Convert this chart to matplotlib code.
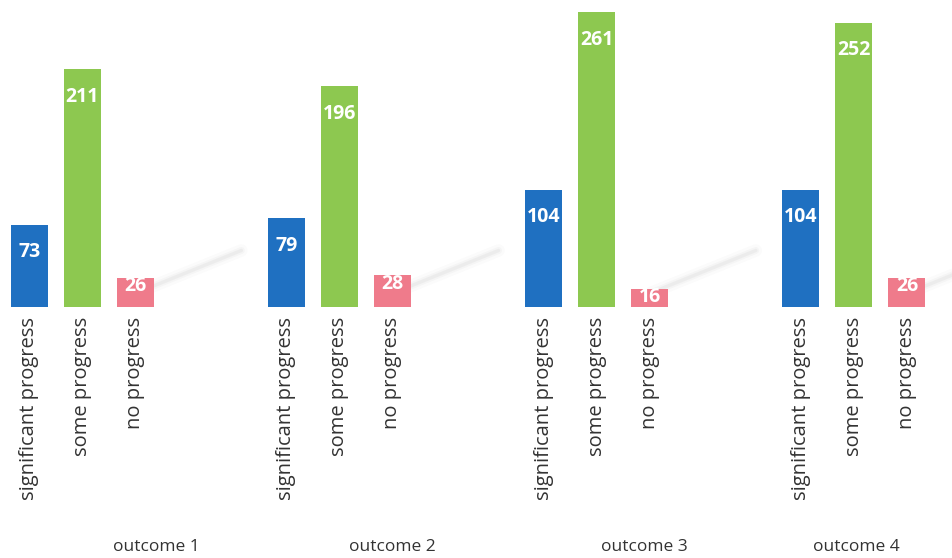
import matplotlib

matplotlib.use("Agg")

import matplotlib.pyplot as plt
import matplotlib.transforms as mtransforms
import numpy as np

outcomes = ["outcome 1", "outcome 2", "outcome 3", "outcome 4"]
progress_levels = ["significant progress", "some progress", "no progress"]
significant = [73, 79, 104, 104]
some = [211, 196, 261, 252]
none_ = [26, 28, 16, 26]

colors = ["#1f70c1", "#8dc850", "#ef7b8b"]
group_step = 4.85
bar_width = 0.7
# outcome captions sit a little off-centre in the source scan
caption_shift = [1.4, 1.0, 0.9, 0.05]

plt.rcParams["font.family"] = ["Open Sans", "DejaVu Sans"]

fig = plt.figure(figsize=(9.52, 5.58), dpi=100)
ax = fig.add_axes([0, 0.45, 1, 0.55])

series = [significant, some, none_]
ticks, tick_labels = [], []
for g in range(len(outcomes)):
    for i, vals in enumerate(series):
        x = g * group_step + i
        v = vals[g]
        ax.bar(x, v, width=bar_width, color=colors[i], zorder=3)
        offset = -20 if v > 50 else -6
        ax.annotate(str(v), (x, v), xytext=(0, offset), textcoords="offset points",
                    ha="center", va="center", color="white", fontsize=14,
                    fontweight="bold", zorder=4)
        ticks.append(x)
        tick_labels.append(progress_levels[i])

    # faint diagonal reflection streak behind the pink bar
    x0 = g * group_step + 2.0
    xs = np.array([x0, x0 + 2.0])
    ys = np.array([12, 50])
    for lw, a in [(9, 0.025), (5, 0.035), (2.5, 0.05)]:
        ax.plot(xs, ys, color="#555555", lw=lw, alpha=a, solid_capstyle="round", zorder=1)

ax.set_xlim(-0.55, 17.4)
ax.set_ylim(0, 272)
ax.set_xticks(ticks)
ax.set_xticklabels(tick_labels, rotation=90, fontsize=14.5, color="#333333")
ax.tick_params(axis="x", length=0, pad=7)
ax.set_yticks([])
for spine in ax.spines.values():
    spine.set_visible(False)

trans = mtransforms.blended_transform_factory(ax.transData, fig.transFigure)
for g, name in enumerate(outcomes):
    ax.text(g * group_step + 1 + caption_shift[g], 0.02, name, transform=trans,
            ha="center", va="center", fontsize=12.5, color="#333333")

fig.savefig("out.png", dpi=100)
